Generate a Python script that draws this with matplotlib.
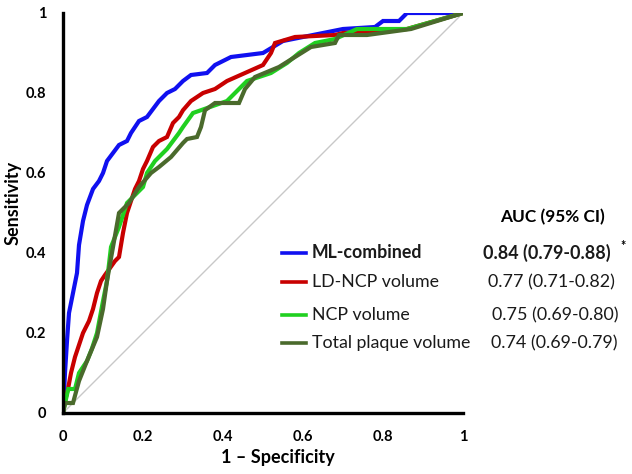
import matplotlib
matplotlib.use("Agg")
import matplotlib.pyplot as plt

# ---- data ----
ml_fpr = [0, 0.005, 0.01, 0.015, 0.025, 0.035, 0.04, 0.05, 0.06, 0.075, 0.09, 0.1, 0.11, 0.125, 0.14, 0.16, 0.17, 0.19, 0.21, 0.24, 0.26, 0.28, 0.3, 0.32, 0.36, 0.38, 0.42, 0.5, 0.55, 0.6, 0.65, 0.7, 0.78, 0.8, 0.84, 0.86, 1.0]
ml_tpr = [0, 0.1, 0.18, 0.25, 0.3, 0.35, 0.42, 0.48, 0.52, 0.56, 0.58, 0.6, 0.63, 0.65, 0.67, 0.68, 0.7, 0.73, 0.74, 0.78, 0.8, 0.81, 0.83, 0.845, 0.85, 0.87, 0.89, 0.9, 0.93, 0.94, 0.95, 0.96, 0.965, 0.98, 0.98, 1.0, 1.0]

ld_fpr = [0, 0.005, 0.0125, 0.02, 0.03, 0.04, 0.05, 0.065, 0.075, 0.085, 0.095, 0.105, 0.13, 0.14, 0.15, 0.16, 0.17, 0.18, 0.19, 0.2, 0.21, 0.225, 0.24, 0.26, 0.275, 0.29, 0.3, 0.32, 0.335, 0.35, 0.38, 0.41, 0.455, 0.5, 0.52, 0.53, 0.58, 0.68, 0.7, 0.8, 0.86, 1.0]
ld_tpr = [0, 0.03, 0.06, 0.1, 0.14, 0.17, 0.2, 0.23, 0.26, 0.3, 0.33, 0.345, 0.38, 0.39, 0.45, 0.5, 0.53, 0.56, 0.58, 0.61, 0.63, 0.665, 0.68, 0.69, 0.725, 0.74, 0.757, 0.78, 0.79, 0.8, 0.81, 0.83, 0.85, 0.87, 0.9, 0.925, 0.94, 0.945, 0.95, 0.955, 0.96, 1.0]

ncp_fpr = [0, 0.013, 0.03, 0.04, 0.06, 0.072, 0.085, 0.1, 0.11, 0.12, 0.14, 0.16, 0.2, 0.21, 0.23, 0.26, 0.275, 0.29, 0.3, 0.325, 0.345, 0.41, 0.43, 0.46, 0.52, 0.56, 0.59, 0.63, 0.68, 0.735, 0.76, 0.86, 1.0]
ncp_tpr = [0, 0.06, 0.06, 0.1, 0.13, 0.16, 0.2, 0.28, 0.33, 0.415, 0.465, 0.525, 0.565, 0.6, 0.63, 0.66, 0.68, 0.7, 0.715, 0.75, 0.757, 0.78, 0.8, 0.83, 0.85, 0.875, 0.9, 0.925, 0.935, 0.96, 0.96, 0.96, 1.0]

tpv_fpr = [0, 0.005, 0.025, 0.04, 0.06, 0.085, 0.1, 0.11, 0.125, 0.14, 0.165, 0.19, 0.22, 0.24, 0.27, 0.3, 0.31, 0.335, 0.345, 0.355, 0.38, 0.44, 0.455, 0.48, 0.54, 0.58, 0.62, 0.68, 0.69, 0.76, 0.87, 1.0]
tpv_tpr = [0, 0.025, 0.025, 0.08, 0.13, 0.19, 0.26, 0.33, 0.415, 0.5, 0.525, 0.565, 0.6, 0.615, 0.64, 0.675, 0.685, 0.69, 0.715, 0.757, 0.775, 0.775, 0.81, 0.84, 0.865, 0.89, 0.915, 0.925, 0.945, 0.945, 0.96, 1.0]

series_names = ["ML-combined", "LD-NCP volume", "NCP volume", "Total plaque volume"]
auc_labels = ["0.84 (0.79-0.88)", "0.77 (0.71-0.82)", "0.75 (0.69-0.80)", "0.74 (0.69-0.79)"]
x_ticks = [0, 0.2, 0.4, 0.6, 0.8, 1]
x_tick_labels = ["0", "0.2", "0.4", "0.6", "0.8", "1"]

colors = ["#1010F0", "#C80000", "#20D020", "#4A6A2C"]
FONT = "Lato"

fig = plt.figure(figsize=(6.32, 4.74), dpi=100)
ax = fig.add_axes([63/632, 1-413/474, 400/632, 400/474])

ax.plot([0, 1], [0, 1], color="#C8C8C8", lw=1.0, zorder=1)
data = [(ml_fpr, ml_tpr), (ld_fpr, ld_tpr), (ncp_fpr, ncp_tpr), (tpv_fpr, tpv_tpr)]
for (xf, yt), c in zip(data, colors):
    ax.plot(xf, yt, color=c, lw=3.0, solid_joinstyle="miter", zorder=2)

ax.set_xlim(0, 1)
ax.set_ylim(0, 1)
for s in ["top", "right"]:
    ax.spines[s].set_visible(False)
for s in ["left", "bottom"]:
    ax.spines[s].set_linewidth(2.4)
    ax.spines[s].set_color("black")
ax.set_xticks(x_ticks)
ax.set_xticklabels(x_tick_labels)
ax.set_yticks(x_ticks)
ax.set_yticklabels(x_tick_labels)
ax.tick_params(length=0, labelsize=10.5, pad=12)
for lab in ax.get_xticklabels() + ax.get_yticklabels():
    lab.set_fontweight("bold")
    lab.set_family(FONT)
ax.set_xlabel("1 \u2013 Specificity", fontsize=13, fontweight="bold", family=FONT)
ax.set_ylabel("Sensitivity", fontsize=13, fontweight="bold", family=FONT)
# place axis labels where they sit in the reference (pixel centres)
ax.xaxis.set_label_coords((278 - 63) / 400, (413 - 458) / 400)
ax.xaxis.label.set_va("center")
ax.yaxis.set_label_coords((13 - 63) / 400, (413 - 203) / 400)
ax.yaxis.label.set_va("center")

# legend / AUC table in figure pixels
def fx(px):
    return px / 632
def fy(py):
    return 1 - py / 474

rows_y = [253, 282, 315, 343]
auc_x = [483, 488, 492, 491]
fig.text(fx(500), fy(217), "AUC (95% CI)", fontsize=12.4, fontweight="bold", family=FONT, va="center", ha="left")
for i, (name, auc, c, y) in enumerate(zip(series_names, auc_labels, colors, rows_y)):
    fig.add_artist(plt.Line2D([fx(282), fx(306)], [fy(y), fy(y)], color=c, lw=2.6, transform=fig.transFigure))
    w = "bold" if i == 0 else "normal"
    fig.text(fx(312), fy(y), name, fontsize=12.8, fontweight=w, family=FONT, va="center", ha="left", color="#1a1a1a")
    fig.text(fx(auc_x[i]), fy(y), auc, fontsize=12.9, fontweight=w, family=FONT, va="center", ha="left", color="#1a1a1a")
fig.text(fx(620), fy(246), "*", fontsize=9, fontweight="bold", family=FONT, va="center", ha="left")

fig.savefig("out.png", dpi=100)
